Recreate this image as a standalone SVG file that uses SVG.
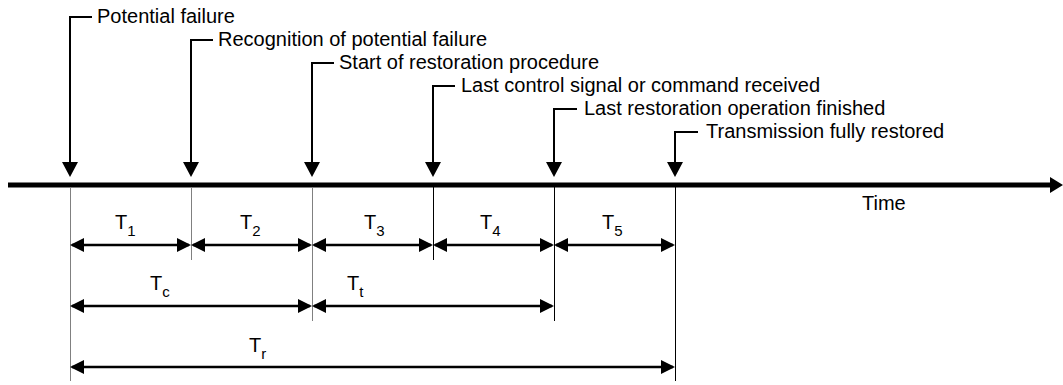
<svg xmlns="http://www.w3.org/2000/svg" width="1063" height="385" viewBox="0 0 1063 385">
<style>
text{font-family:"Liberation Sans",Arial,sans-serif;font-size:20px;fill:#000}
.sub{font-size:15px}
.ptr{fill:none;stroke:#000;stroke-width:2;marker-end:url(#down)}
.dim{fill:none;stroke:#000;stroke-width:2.5;marker-start:url(#tip);marker-end:url(#tip)}
.ext{stroke:#000;stroke-width:1}
.extg{stroke:#808080;stroke-width:1}
</style>
<defs>
<marker id="down" markerUnits="userSpaceOnUse" markerWidth="16" markerHeight="16" refX="3" refY="8" orient="auto"><path d="M0,0 L15,8 L0,16 z" fill="#000"/></marker>
<marker id="tip" markerUnits="userSpaceOnUse" markerWidth="14" markerHeight="14" refX="12" refY="7" orient="auto-start-reverse"><path d="M0,0 L14,7 L0,14 z" fill="#000"/></marker>
</defs>
<rect width="1063" height="385" fill="#fff"/>
<g id="connectors">
<line x1="8" y1="185" x2="1052" y2="185" stroke="#000" stroke-width="5"/>
<polygon points="1050,177 1063,185 1050,193" fill="#000"/>
<line class="extg" x1="70.5" y1="187" x2="70.5" y2="381"/>
<line class="extg" x1="191.5" y1="187" x2="191.5" y2="260"/>
<line class="extg" x1="312.5" y1="187" x2="312.5" y2="321"/>
<line class="ext" x1="433.5" y1="187" x2="433.5" y2="260"/>
<line class="ext" x1="554.5" y1="187" x2="554.5" y2="321"/>
<line class="ext" x1="675.5" y1="187" x2="675.5" y2="381"/>
<path class="dim" d="M72,245 H189"/>
<path class="dim" d="M193,245 H310"/>
<path class="dim" d="M314,245 H431"/>
<path class="dim" d="M435,245 H552"/>
<path class="dim" d="M556,245 H673"/>
<path class="dim" d="M72,306 H310"/>
<path class="dim" d="M314,306 H552"/>
<path class="dim" d="M72,367 H673"/>
</g>
<g id="ev1"><path class="ptr" d="M92,17 H70 V165"/><text x="97" y="23">Potential failure</text></g>
<g id="ev2"><path class="ptr" d="M213,40 H191 V165"/><text x="218" y="46">Recognition of potential failure</text></g>
<g id="ev3"><path class="ptr" d="M334,63 H312 V165"/><text x="339" y="69">Start of restoration procedure</text></g>
<g id="ev4"><path class="ptr" d="M455,86 H433 V165"/><text x="461" y="92">Last control signal or command received</text></g>
<g id="ev5"><path class="ptr" d="M577,109 H554 V165"/><text x="584" y="115">Last restoration operation finished</text></g>
<g id="ev6"><path class="ptr" d="M698,132 H675 V165"/><text x="706" y="138">Transmission fully restored</text></g>
<g id="time"><text x="862" y="210">Time</text></g>
<g id="T1"><text x="115" y="229">T<tspan class="sub" dy="7">1</tspan></text></g>
<g id="T2"><text x="240" y="229">T<tspan class="sub" dy="7">2</tspan></text></g>
<g id="T3"><text x="364" y="229">T<tspan class="sub" dy="7">3</tspan></text></g>
<g id="T4"><text x="480" y="229">T<tspan class="sub" dy="7">4</tspan></text></g>
<g id="T5"><text x="602" y="229">T<tspan class="sub" dy="7">5</tspan></text></g>
<g id="Tc"><text x="150" y="290">T<tspan class="sub" dy="7">c</tspan></text></g>
<g id="Tt"><text x="347" y="290">T<tspan class="sub" dy="7">t</tspan></text></g>
<g id="Tr"><text x="249" y="352">T<tspan class="sub" dy="7">r</tspan></text></g>
</svg>
